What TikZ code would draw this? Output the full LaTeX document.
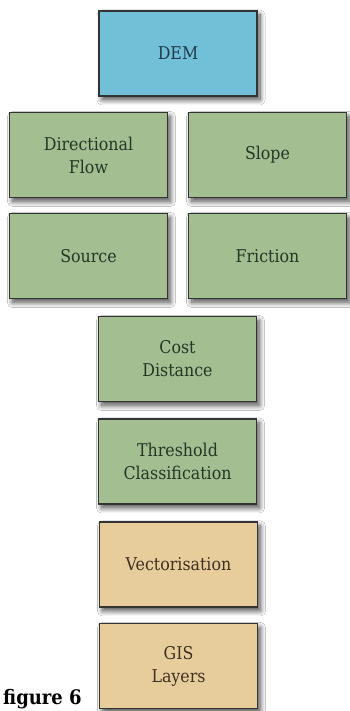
\documentclass[tikz,border=0pt]{standalone}
\usepackage{fontspec}
\setmainfont{DejaVu Serif}[FakeStretch=0.9]
\usetikzlibrary{shadows.blur}
\definecolor{demfill}{HTML}{72C0D8}
\definecolor{demtext}{HTML}{1F3B4C}
\definecolor{grnfill}{HTML}{A3BF92}
\definecolor{grntext}{HTML}{263626}
\definecolor{tanfill}{HTML}{E8CD9C}
\definecolor{tantext}{HTML}{3E3022}
\definecolor{edge}{HTML}{333333}
\tikzset{
  box/.style={rectangle, draw=edge, line width=1.8pt, align=center,
    minimum width=158pt, minimum height=85pt, inner sep=0pt,
    font=\fontsize{17.6}{23}\selectfont,
    blur shadow={shadow xshift=3pt, shadow yshift=-4pt,
      shadow blur radius=5pt, shadow blur steps=12, shadow opacity=70}},
  dembox/.style={box, fill=demfill, text=demtext},
  grnbox/.style={box, fill=grnfill, text=grntext},
  tanbox/.style={box, fill=tanfill, text=tantext}
}
\begin{document}
\begin{tikzpicture}[x=1pt,y=1pt]
  \useasboundingbox (0,0) rectangle (350,711);
  \fill[white] (0,0) rectangle (350,711);
  % boxes, centres given in y measured from the top edge
  \node[dembox] (dem)    at (178, 711-53.5)  {DEM};
  \node[grnbox] (flow)   at (88.5, 711-155)  {Directional\\Flow};
  \node[grnbox] (slope)  at (267.5, 711-155) {Slope};
  \node[grnbox] (source) at (88.5, 711-256)  {Source};
  \node[grnbox] (fric)   at (267.5, 711-256) {Friction};
  \node[grnbox] (cost)   at (177.5, 711-359) {Cost\\Distance};
  \node[grnbox] (thresh) at (177.5, 711-461.5) {Threshold\\Classification};
  \node[tanbox] (vect)   at (178.5, 711-564.5) {Vectorisation};
  \node[tanbox] (gis)    at (178.5, 711-666) {GIS\\Layers};
  % caption
  \node[anchor=base west, inner sep=0pt, font=\fontsize{20}{24}\bfseries\selectfont]
    (cap) at (3, 711-705) {figure 6};
\end{tikzpicture}
\end{document}
